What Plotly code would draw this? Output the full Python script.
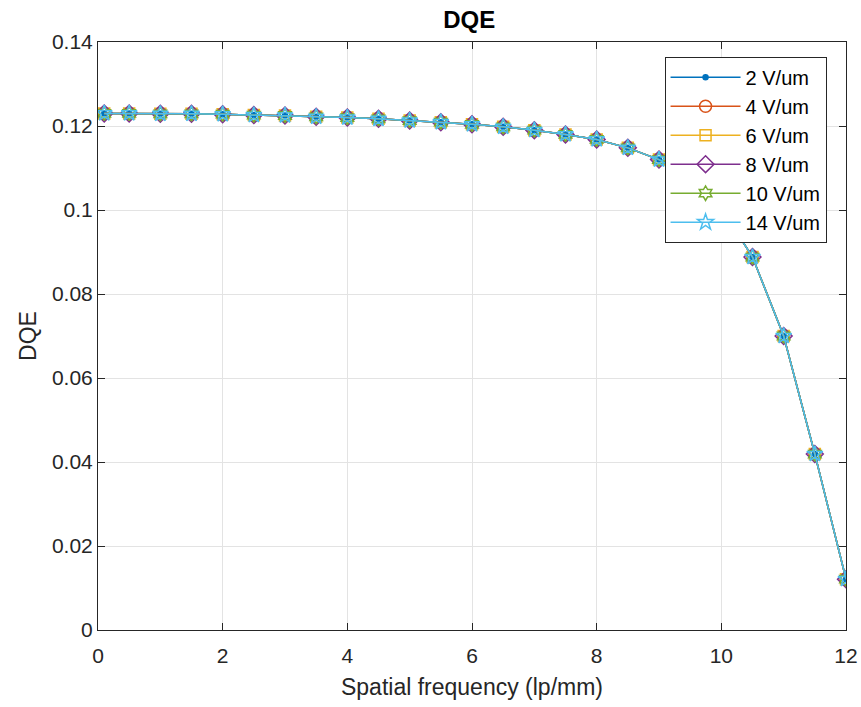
import plotly.graph_objects as go

freq = [0.1, 0.5, 1.0, 1.5, 2.0, 2.5, 3.0, 3.5, 4.0, 4.5, 5.0, 5.5, 6.0, 6.5, 7.0, 7.5,
        8.0, 8.5, 9.0, 9.5, 10.0, 10.5, 11.0, 11.5, 12.0]
dqe = [0.1230, 0.1230, 0.1229, 0.1229, 0.1228, 0.1226, 0.1225, 0.1222, 0.1220, 0.1217,
       0.1213, 0.1209, 0.1204, 0.1198, 0.1190, 0.1180, 0.1168, 0.1148, 0.1120, 0.1078,
       0.1005, 0.0888, 0.0700, 0.0419, 0.0121]
series_names = ["2 V/um", "4 V/um", "6 V/um", "8 V/um", "10 V/um", "14 V/um"]
series_values = [dqe, dqe, dqe, dqe, dqe, dqe]

colors = ["#0072BD", "#D95319", "#EDB120", "#7E2F8E", "#77AC30", "#4DBEEE"]
symbols = ["circle", "circle-open", "square-open", "diamond-open", "hexagram-open", "star-open"]
sizes = [5, 12, 11, 13, 11, 12]

fig = go.Figure()
for name, vals, c, s, sz in zip(series_names, series_values, colors, symbols, sizes):
    fig.add_trace(go.Scatter(
        x=freq, y=vals, name=name, mode="lines+markers",
        line=dict(color=c, width=1.5),
        marker=dict(symbol=s, size=sz, color=c, line=dict(color=c, width=1.5)),
    ))

axis_common = dict(
    showline=True, linecolor="#262626", linewidth=1, mirror="ticks",
    ticks="inside", ticklen=7, tickcolor="#262626",
    showgrid=True, gridcolor="#e3e3e3", gridwidth=1, zeroline=False,
    tickfont=dict(size=21, color="#262626", family="Liberation Sans"),
    automargin=False,
)

fig.update_layout(
    width=861, height=707,
    margin=dict(l=98, r=15, t=42, b=77),
    paper_bgcolor="white", plot_bgcolor="white",
    font=dict(family="Liberation Sans", color="#262626"),
    title=dict(text="<b>DQE</b>", x=0.545, xanchor="center", y=0.972, yanchor="middle",
               font=dict(size=24, color="#000000")),
    xaxis=dict(range=[0, 12], dtick=2, tick0=0, ticklabelstandoff=7,
               title=dict(text="Spatial frequency (lp/mm)", font=dict(size=23), standoff=12),
               **axis_common),
    yaxis=dict(range=[0, 0.14], dtick=0.02, tick0=0,
               title=dict(text="DQE", font=dict(size=23), standoff=8),
               **axis_common),
    legend=dict(x=0.974, y=0.975, xanchor="right", yanchor="top",
                bgcolor="white", bordercolor="#262626", borderwidth=1,
                font=dict(size=20, color="#000000"), tracegroupgap=0, itemwidth=70),
    showlegend=True,
)

fig.write_html("out.html")
